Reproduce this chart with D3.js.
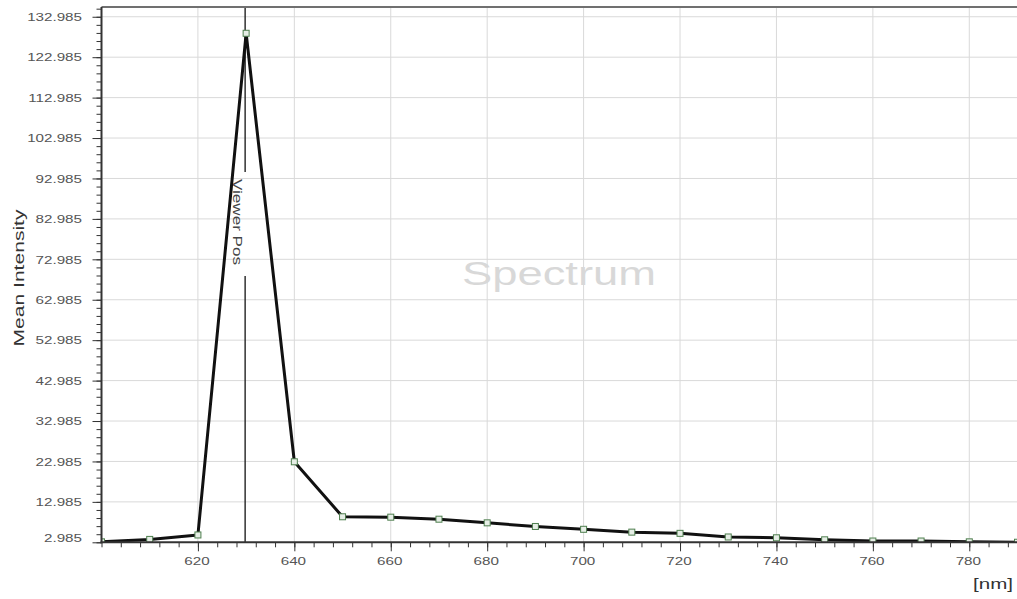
<!DOCTYPE html>
<html>
<head>
<meta charset="utf-8">
<script src="https://cdn.jsdelivr.net/npm/d3@7/dist/d3.min.js"></script>
<style>
  html, body { margin: 0; padding: 0; background: #fff; }
  svg { display: block; }
  text { font-family: "Liberation Sans", Arial, sans-serif; }
</style>
</head>
<body>
<svg id="chart" width="1017" height="599"></svg>
<script>
// ---- data ----
const wavelengths = [600, 610, 620, 630, 640, 650, 660, 670, 680, 690, 700, 710, 720, 730, 740, 750, 760, 770, 780, 790];
const meanIntensity = [3.1, 3.7, 4.8, 128.9, 22.9, 9.3, 9.2, 8.7, 7.8, 6.9, 6.2, 5.5, 5.2, 4.3, 4.1, 3.6, 3.3, 3.3, 3.1, 3.0];
const yTickValues = [2.985, 12.985, 22.985, 32.985, 42.985, 52.985, 62.985, 72.985, 82.985, 92.985, 102.985, 112.985, 122.985, 132.985];
const xTickValues = [620, 640, 660, 680, 700, 720, 740, 760, 780];
const viewerPos = 630;
const yTitle = "Mean Intensity";
const xUnit = "[nm]";
const watermark = "Spectrum";
const viewerLabel = "Viewer Pos";

// ---- layout ----
const svg = d3.select("#chart");
const pLeft = 101.5, pRight = 1017.5, pTop = 7, pBottom = 542.3;
const x = d3.scaleLinear().domain([600, 790]).range([pLeft, pRight]);
const y = d3.scaleLinear().domain([2.985, 135.4]).range([pBottom, pTop]);

svg.append("rect").attr("width", 1017).attr("height", 599).attr("fill", "#fff");

function stretch(sel, f) {
  sel.each(function () {
    const w = this.getComputedTextLength();
    this.setAttribute("textLength", w * f);
    this.setAttribute("lengthAdjust", "spacingAndGlyphs");
  });
}

// grid
const grid = svg.append("g");
grid.selectAll("line.gx").data(xTickValues).join("line")
  .attr("x1", d => x(d)).attr("x2", d => x(d))
  .attr("y1", pTop).attr("y2", pBottom)
  .attr("stroke", "#d9d9d9").attr("stroke-width", 1);
grid.selectAll("line.gy").data(yTickValues.slice(1)).join("line")
  .attr("x1", pLeft).attr("x2", pRight)
  .attr("y1", d => y(d)).attr("y2", d => y(d))
  .attr("stroke", "#d9d9d9").attr("stroke-width", 1);

// watermark
svg.append("text")
  .attr("x", 559).attr("y", 285)
  .attr("text-anchor", "middle")
  .attr("font-size", 34)
  .attr("fill", "#d8d8d8")
  .attr("textLength", 194).attr("lengthAdjust", "spacingAndGlyphs")
  .text(watermark);

// viewer position marker line
const vx = x(viewerPos) - 1;
svg.append("line").attr("x1", vx).attr("x2", vx).attr("y1", pTop).attr("y2", 172)
  .attr("stroke", "#222").attr("stroke-width", 1.4);
svg.append("line").attr("x1", vx).attr("x2", vx).attr("y1", 276).attr("y2", pBottom)
  .attr("stroke", "#222").attr("stroke-width", 1.4);
svg.append("text")
  .attr("transform", `translate(${vx - 12.5},222) rotate(90)`)
  .attr("text-anchor", "middle")
  .attr("font-size", 12.5)
  .attr("fill", "#444")
  .attr("textLength", 86).attr("lengthAdjust", "spacingAndGlyphs")
  .text(viewerLabel);

// clip
svg.append("clipPath").attr("id", "plotclip").append("rect")
  .attr("x", pLeft).attr("y", pTop - 4).attr("width", pRight - pLeft).attr("height", pBottom - pTop + 4);

const plot = svg.append("g").attr("clip-path", "url(#plotclip)");
const line = d3.line().x((d, i) => x(wavelengths[i])).y(d => y(d));
plot.append("path").datum(meanIntensity)
  .attr("d", line)
  .attr("fill", "none")
  .attr("stroke", "#111")
  .attr("stroke-width", 3)
  .attr("stroke-linejoin", "round");
plot.selectAll("rect.pt").data(meanIntensity).join("rect")
  .attr("class", "pt")
  .attr("x", (d, i) => x(wavelengths[i]) - 3)
  .attr("y", d => y(d) - 3)
  .attr("width", 6).attr("height", 6)
  .attr("fill", "#e6eee6")
  .attr("stroke", "#4f7f4f")
  .attr("stroke-width", 1);

// top border
svg.append("line").attr("x1", pLeft).attr("x2", 1017).attr("y1", pTop).attr("y2", pTop)
  .attr("stroke", "#707070").attr("stroke-width", 2);

// minor ticks
const yMinor = d3.range(2.985, 135.4, 2);
const xMinor = d3.range(600, 790.1, 4);
svg.append("g").attr("transform", `translate(${pLeft},0)`)
  .call(d3.axisLeft(y).tickValues(yMinor).tickSize(5).tickSizeOuter(0).tickFormat(""))
  .call(g => g.select(".domain").remove())
  .call(g => g.selectAll("line").attr("stroke", "#333"));
svg.append("g").attr("transform", `translate(0,${pBottom})`)
  .call(d3.axisBottom(x).tickValues(xMinor).tickSize(5).tickSizeOuter(0).tickFormat(""))
  .call(g => g.select(".domain").remove())
  .call(g => g.selectAll("line").attr("stroke", "#333"));

// major axes
const yAxis = svg.append("g").attr("transform", `translate(${pLeft},0)`)
  .call(d3.axisLeft(y).tickValues(yTickValues).tickSize(9).tickSizeOuter(0)
    .tickPadding(10.5).tickFormat(d3.format(".3f")));
yAxis.select(".domain").attr("stroke", "#333").attr("stroke-width", 2).attr("d", `M0,${pTop}V${pBottom + 1}`);
yAxis.selectAll("line").attr("stroke", "#333");
yAxis.selectAll("text").attr("font-size", 11.5).attr("fill", "#555")
  .attr("font-family", "Liberation Sans, Arial, sans-serif");
stretch(yAxis.selectAll("text"), 1.32);
yAxis.selectAll(".tick").filter(d => d === 2.985).select("text").attr("dy", "-0.1em");

const xAxis = svg.append("g").attr("transform", `translate(0,${pBottom})`)
  .call(d3.axisBottom(x).tickValues(xTickValues).tickSize(9).tickSizeOuter(0)
    .tickPadding(5.5).tickFormat(d3.format("d")));
xAxis.select(".domain").attr("stroke", "#333").attr("stroke-width", 2).attr("d", `M${pLeft - 1},0H1017`);
xAxis.selectAll("line").attr("stroke", "#333");
xAxis.selectAll("text").attr("font-size", 11.5).attr("fill", "#555").attr("dx", "-1.5")
  .attr("font-family", "Liberation Sans, Arial, sans-serif");
stretch(xAxis.selectAll("text"), 1.32);

// axis titles
svg.append("text")
  .attr("transform", "translate(24,278) rotate(-90)")
  .attr("text-anchor", "middle")
  .attr("font-size", 14)
  .attr("fill", "#333")
  .attr("textLength", 137).attr("lengthAdjust", "spacingAndGlyphs")
  .text(yTitle);
svg.append("text")
  .attr("x", 973).attr("y", 589)
  .attr("font-size", 14)
  .attr("fill", "#333")
  .attr("textLength", 40).attr("lengthAdjust", "spacingAndGlyphs")
  .text(xUnit);
</script>
</body>
</html>
